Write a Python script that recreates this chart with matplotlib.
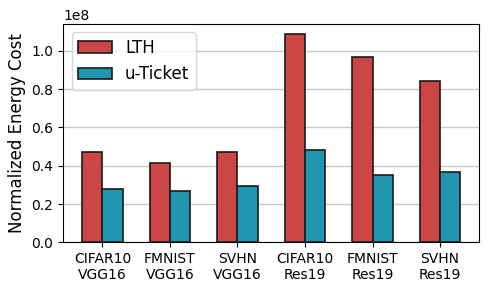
import matplotlib
matplotlib.use("Agg")
import matplotlib.pyplot as plt
import numpy as np

categories = ["CIFAR10\nVGG16", "FMNIST\nVGG16", "SVHN\nVGG16",
              "CIFAR10\nRes19", "FMNIST\nRes19", "SVHN\nRes19"]
lth = [0.474e8, 0.415e8, 0.469e8, 1.087e8, 0.969e8, 0.843e8]
uticket = [0.277e8, 0.268e8, 0.294e8, 0.481e8, 0.350e8, 0.369e8]

fig, ax = plt.subplots(figsize=(4.9, 2.91), dpi=100)
x = np.arange(len(categories))
w = 0.3
ax.bar(x - w/2, lth, w, color="#CC4646", edgecolor="#1a1a1a", linewidth=1.2, label="LTH", zorder=3)
ax.bar(x + w/2, uticket, w, color="#2196B0", edgecolor="#1a1a1a", linewidth=1.2, label="u-Ticket", zorder=3)
ax.set_ylim(0, 1.14e8)
ax.set_xticks(x)
ax.set_xticklabels(categories, fontsize=10)
ax.tick_params(axis="y", labelsize=10)
ax.set_ylabel("Normalized Energy Cost", fontsize=12)
ax.yaxis.grid(True, color="#c8c8c8", linewidth=1, zorder=0)
ax.set_axisbelow(True)
ax.legend(loc="upper left", fontsize=12)
fig.subplots_adjust(left=0.129, right=0.978, top=0.918, bottom=0.167)
fig.savefig("out.png", dpi=100)
